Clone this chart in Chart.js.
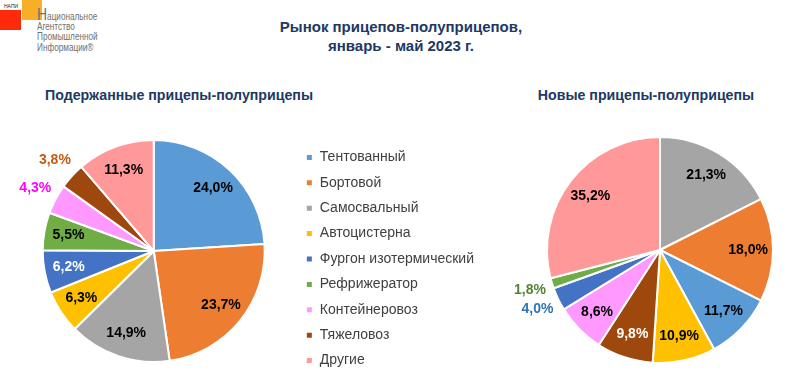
<!DOCTYPE html>
<html><head><meta charset="utf-8">
<script src="https://cdn.jsdelivr.net/npm/chart.js@4/dist/chart.umd.min.js"></script>
<style>
html,body{margin:0;padding:0;background:#fff;width:802px;height:379px;overflow:hidden;font-family:"Liberation Sans",Arial,sans-serif;}
#wrap{position:relative;width:802px;height:379px;overflow:hidden;}
.abs{position:absolute;}
#title{left:201px;top:17px;width:400px;text-align:center;font-weight:bold;font-size:15px;line-height:19px;color:#203864;}
.sub{top:87px;font-weight:bold;font-size:14.2px;color:#203864;text-align:center;white-space:nowrap;}
#logoTxt{left:37px;top:12px;font-size:10px;line-height:10.2px;color:#707070;transform:scaleX(0.82);transform-origin:0 0;white-space:nowrap;}
#logoTxt .big{font-size:17px;line-height:0;}
#napi{left:4px;top:3px;font-size:5px;color:#222;}
</style></head>
<body><div id="wrap">
<div class="abs" style="left:0;top:10px;width:21px;height:20px;background:#FF2A0A"></div>
<div class="abs" style="left:22px;top:0;width:20px;height:20px;background:#F9AE2A"></div>
<div class="abs" id="napi">НАПИ</div>
<div class="abs" id="logoTxt"><span class="big">Н</span>ациональное<br>Агентство<br>Промышленной<br>Информации®</div>
<div class="abs" id="title">Рынок прицепов-полуприцепов,<br>январь - май 2023 г.</div>
<div class="abs sub" style="left:29px;width:300px;">Подержанные прицепы-полуприцепы</div>
<div class="abs sub" style="left:496px;width:300px;">Новые прицепы-полуприцепы</div>
<canvas id="c1" class="abs" style="left:0;top:116px;" width="500" height="270"></canvas>
<canvas id="c2" class="abs" style="left:510px;top:130px;" width="300" height="240"></canvas>
</div>
<script>
const categories = ['Тентованный','Бортовой','Самосвальный','Автоцистерна','Фургон изотермический','Рефрижератор','Контейнеровоз','Тяжеловоз','Другие'];
const usedShares = [24.0, 23.7, 14.9, 6.3, 6.2, 5.5, 4.3, 3.8, 11.3];
const newCategories = ['Самосвальный','Бортовой','Тентованный','Автоцистерна','Тяжеловоз','Контейнеровоз','Фургон изотермический','Рефрижератор','Другие'];
const newShares = [21.3, 18.0, 11.7, 10.9, 9.8, 8.6, 4.0, 1.8, 35.2];

const sliceColor = {
  'Тентованный':'#5B9BD5','Бортовой':'#ED7D31','Самосвальный':'#A5A5A5','Автоцистерна':'#FFC000',
  'Фургон изотермический':'#4472C4','Рефрижератор':'#70AD47','Контейнеровоз':'#FF99FF','Тяжеловоз':'#9E480E','Другие':'#FF9999'
};
const outsideColor = {
  'Тентованный':'#2E75B6','Бортовой':'#C55A11','Самосвальный':'#7F7F7F','Автоцистерна':'#BF9000',
  'Фургон изотермический':'#2E75B6','Рефрижератор':'#548235','Контейнеровоз':'#FF00FF','Тяжеловоз':'#C55A11','Другие':'#FF6666'
};
const whiteText = {'Фургон изотермический':true,'Тяжеловоз':true};

const labelPlugin = {
  id:'pctLabels',
  afterDatasetsDraw(chart){
    const ctx = chart.ctx;
    const ds = chart.data.datasets[0];
    const meta = chart.getDatasetMeta(0);
    ctx.save();
    ctx.font = 'bold 14px "Liberation Sans", Arial, sans-serif';
    ctx.textAlign = 'center';
    ctx.textBaseline = 'middle';
    meta.data.forEach((arc, i) => {
      const p = arc.getProps(['x','y','startAngle','endAngle','outerRadius'], true);
      const v = ds.data[i];
      const cat = chart.data.labels[i];
      const mid = (p.startAngle + p.endAngle) / 2;
      let r, col;
      if (v < 5) { r = p.outerRadius + 23; col = outsideColor[cat]; }
      else { r = p.outerRadius * 0.78; col = whiteText[cat] ? '#FFFFFF' : '#000000'; }
      const txt = v.toFixed(1).replace('.', ',') + '%';
      ctx.fillStyle = col;
      ctx.fillText(txt, p.x + Math.cos(mid) * r, p.y + Math.sin(mid) * r);
    });
    ctx.restore();
  }
};

Chart.defaults.font.family = '"Liberation Sans", Arial, sans-serif';

new Chart(document.getElementById('c1'), {
  type:'pie',
  data:{ labels:categories, datasets:[{ data:usedShares, backgroundColor:categories.map(c=>sliceColor[c]), borderColor:'#FFFFFF', borderWidth:2 }]},
  options:{
    responsive:false, animation:false, radius:111,
    layout:{ padding:{ left:13, right:16, top:0, bottom:0 } },
    plugins:{
      tooltip:{enabled:false},
      legend:{
        position:'right', align:'center',
        title:{ display:true, text:' ', padding:2, font:{size:10} },
        labels:{ boxWidth:7, boxHeight:7, padding:11.4, color:'#404040', font:{size:14} }
      }
    }
  },
  plugins:[labelPlugin]
});

new Chart(document.getElementById('c2'), {
  type:'pie',
  data:{ labels:newCategories, datasets:[{ data:newShares, backgroundColor:newCategories.map(c=>sliceColor[c]), borderColor:'#FFFFFF', borderWidth:2 }]},
  options:{
    responsive:false, animation:false, radius:113,
    plugins:{ tooltip:{enabled:false}, legend:{display:false} }
  },
  plugins:[labelPlugin]
});
</script>
</body></html>
